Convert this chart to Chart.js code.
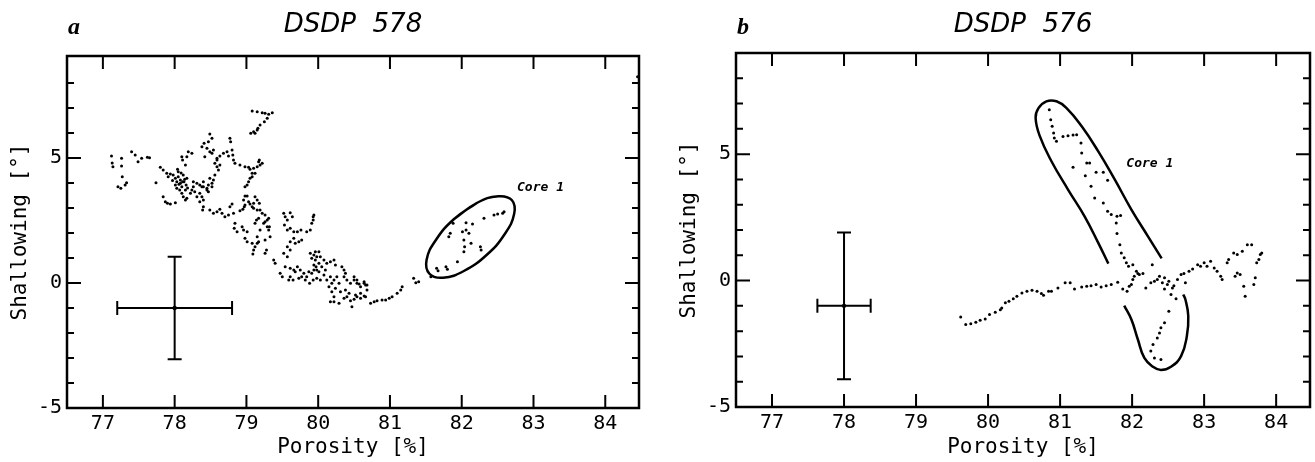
<!DOCTYPE html>
<html>
<head>
<meta charset="utf-8">
<script src="https://cdn.jsdelivr.net/npm/chart.js@4.4.1/dist/chart.umd.min.js"></script>
<style>
  html, body { margin: 0; padding: 0; background: #fff; }
  body { width: 1315px; height: 462px; position: relative; overflow: hidden; }
  canvas { position: absolute; top: 0; }
  #chartA { left: 0; }
  #chartB { left: 669px; }
  .letter { position: absolute; top: 13px; line-height: 24px; font: italic bold 24px "Liberation Serif", serif; color: #000; }
</style>
</head>
<body>
<canvas id="chartA" width="669" height="462"></canvas>
<canvas id="chartB" width="646" height="462"></canvas>
<div class="letter" style="left:68px">a</div>
<div class="letter" style="left:737px">b</div>
<script>
// axes
const xTicks = [77, 78, 79, 80, 81, 82, 83, 84];
const yTicks = [-5, 0, 5];
const yMinor = [-4, -3, -2, -1, 1, 2, 3, 4, 6, 7, 8];

// DSDP 578 : [porosity %, shallowing deg]
const site578 = [
  [77.12,5.08],[77.14,4.65],[77.26,4.99],[77.26,4.68],[77.27,4.25],[77.21,3.85],[77.25,3.79],[77.31,3.92],[77.33,4.01],[77.13,4.80],
  [77.40,5.25],[77.45,5.12],[77.49,4.85],[77.54,4.99],[77.62,5.03],[77.65,5.01],[77.74,4.01],
  [77.80,4.63],[77.84,4.52],[77.89,4.39],[77.91,4.25],[77.94,4.36],[77.98,4.32],[78.01,4.19],[78.03,4.05],[78.05,4.25],[78.08,4.12],
  [78.08,3.99],[78.10,3.85],[78.12,4.32],[78.13,4.05],[78.15,3.72],[78.16,3.92],[78.17,4.19],[78.01,3.92],[78.03,3.79],[78.07,3.72],
  [78.10,3.59],[78.12,3.45],[78.15,3.32],[78.17,3.39],[78.22,3.59],[78.24,3.72],[78.26,3.85],[78.28,3.65],[78.31,3.45],[78.35,3.59],
  [78.38,3.85],[78.40,4.05],[78.45,3.72],[78.40,3.32],[78.47,3.92],[78.49,4.19],[78.52,3.99],[78.54,4.12],[78.56,4.32],[77.87,3.25],
  [77.90,3.19],[77.94,3.16],[78.01,3.21],[77.84,3.45],[78.05,4.45],[78.09,4.40],[78.11,4.05],[78.06,3.95],[78.14,4.15],[78.04,4.55],
  [77.97,4.10],[78.18,3.80],
  [78.49,5.96],[78.52,5.79],[78.47,5.65],[78.41,5.59],[78.38,5.45],[78.45,5.39],[78.49,5.25],[78.42,5.05],[78.52,5.19],[78.54,5.32],
  [78.77,5.79],[78.78,5.65],[78.73,5.25],[78.68,5.19],[78.63,5.08],[78.59,4.99],[78.75,5.08],[78.80,5.32],[78.81,5.12],[78.82,4.92],
  [78.56,4.79],[78.59,4.65],[78.61,4.52],[78.63,4.72],[78.59,4.92],[78.19,5.25],[78.24,5.19],[78.10,5.05],[78.11,4.92],[78.15,4.72],
  [78.17,5.05],
  [79.08,6.88],[79.15,6.85],[79.22,6.81],[79.26,6.79],[79.31,6.75],[79.36,6.81],[79.29,6.59],[79.25,6.45],[79.19,6.32],[79.16,6.19],
  [79.10,6.05],[79.06,5.99],[79.12,5.99],[79.15,6.12],
  [78.84,4.79],[78.91,4.72],[78.98,4.65],[79.03,4.63],[79.05,4.55],[79.10,4.59],[79.15,4.65],[79.19,4.72],[79.17,4.85],[79.22,4.79],
  [79.18,4.92],[79.08,4.39],[79.05,4.19],[79.03,4.05],[79.01,3.92],[78.98,3.85],[79.08,4.25],[79.12,4.39],
  [78.26,4.05],[78.31,3.99],[78.35,3.92],[78.40,3.85],[78.45,3.79],[78.52,3.85],[78.47,3.65],[78.38,3.45],[78.35,3.25],[78.40,3.05],
  [78.39,2.92],[78.49,2.92],[78.54,2.79],[78.59,2.85],[78.63,2.95],[78.66,2.79],[78.70,2.65],[78.75,2.72],[78.77,3.05],[78.80,3.16],
  [78.82,2.79],[78.84,2.39],[78.83,2.19],[78.87,2.05],[78.91,2.89],[78.95,2.95],[78.97,3.05],[78.98,3.12],[79.01,3.48],[79.03,3.25],
  [79.05,3.16],[79.08,3.05],[79.10,3.19],[79.12,3.45],[79.15,3.32],[79.18,3.19],[78.98,3.48],[78.96,3.32],
  [78.94,2.25],[78.96,2.12],[79.01,2.05],[78.98,1.79],[79.01,1.65],[79.08,1.59],[79.10,1.32],[79.09,1.16],[79.12,1.45],[79.15,1.59],
  [79.17,1.65],[79.15,1.85],[79.12,2.39],[79.14,2.52],[79.17,2.59],[79.19,2.12],[79.24,2.39],[79.26,2.45],[79.29,2.52],[79.31,2.59],
  [79.29,2.25],[79.31,2.12],[79.33,1.85],[79.32,2.25],[79.26,2.72],[79.22,2.79],[79.19,2.92],[79.15,2.92],[79.10,2.99],[79.26,1.72],
  [79.26,1.19],[79.28,1.32],
  [79.52,2.79],[79.54,2.65],[79.61,2.81],[79.64,2.65],[79.57,2.52],[79.53,2.32],[79.57,2.12],[79.61,2.19],[79.66,2.05],[79.71,2.05],
  [79.76,2.12],[79.66,1.79],[79.61,1.65],[79.57,1.45],[79.61,1.32],[79.68,1.59],[79.73,1.65],[79.77,1.72],[79.84,2.05],[79.89,2.12],
  [79.91,2.39],[79.93,2.65],[79.94,2.72],[79.93,2.52],[79.52,1.19],[79.57,1.05],[79.38,0.92],[79.40,0.79],
  [79.89,1.19],[79.91,0.99],[79.94,1.12],[79.96,0.92],[79.98,1.05],[80.01,0.79],[79.97,0.65],[79.94,0.52],[79.91,0.39],[79.87,0.45],
  [79.84,0.25],[79.80,0.39],[79.75,0.52],[79.71,0.65],[79.68,0.45],[79.73,0.19],[79.77,0.25],[79.82,0.12],[79.88,-0.01],[79.93,0.12],
  [79.98,0.19],[80.03,0.12],[80.08,0.32],[80.10,0.52],[80.05,0.65],[80.12,0.79],[80.17,0.85],[80.22,0.92],[80.24,0.72],[80.08,0.92],
  [80.03,1.05],[80.01,1.25],[79.96,1.25],[79.98,0.52],[79.94,0.72],[80.01,0.45],[80.12,0.12],[80.17,0.25],[80.19,-0.01],[80.15,-0.15],
  [80.22,0.12],[80.26,0.25],[80.29,-0.01],[80.33,0.65],[80.36,0.52],[80.38,0.39],[80.36,0.25],[80.40,0.12],[80.45,-0.01],[80.50,0.12],
  [80.54,-0.01],[80.59,-0.15],[80.64,-0.01],[80.68,-0.08],[79.66,0.52],[79.61,0.59],[79.54,0.65],[79.47,0.39],[79.50,0.25],[79.59,0.12],
  [79.61,0.25],[79.65,0.12],
  [80.17,-0.75],[80.22,-0.75],[80.29,-0.81],[80.36,-0.61],[80.40,-0.55],[80.45,-0.71],[80.50,-0.65],[80.54,-0.55],[80.59,-0.61],
  [80.64,-0.52],[80.66,-0.08],[80.68,-0.28],[80.47,-0.95],[80.38,-0.28],[80.43,-0.41],[80.31,-0.35],[80.24,-0.21],[80.19,-0.35],
  [80.22,-0.55],
  [80.50,0.25],[80.54,0.12],[80.57,-0.04],[80.64,0.05],[80.59,-0.41],[80.52,-0.48],[80.66,-0.55],[80.73,-0.81],[80.78,-0.75],
  [80.82,-0.71],[80.89,-0.68],[80.94,-0.68],[80.99,-0.61],[81.03,-0.55],[81.10,-0.41],[81.15,-0.28],[81.17,-0.15],[81.33,0.19],
  [81.36,0.01],[81.40,0.05],[81.57,0.25],
  [81.65,0.59],[81.67,0.49],[81.78,0.65],[81.80,0.55],[81.94,0.85],[82.03,1.25],[82.04,1.45],[82.13,1.59],[82.26,1.45],[82.27,1.32],
  [82.03,1.72],[81.82,1.85],[81.84,1.99],[82.01,2.05],[82.06,2.12],[82.10,1.99],[81.88,2.39],[82.06,2.41],[82.15,2.36],[82.31,2.59],
  [82.45,2.72],[82.50,2.76],[82.57,2.79],[82.59,2.85],
  [84.45,8.25]
];
// Core 1 outline, DSDP 578 (closed, first two vertices repeated)
const core578 = [
  [81.89,2.55],[82.21,3.20],[82.51,3.47],[82.70,3.31],[82.73,2.76],[82.60,1.96],[82.35,1.13],[82.03,0.48],
  [81.74,0.21],[81.55,0.37],[81.51,0.92],[81.64,1.72],[81.89,2.55],[82.21,3.20]
];
const err578 = [78, -1, 0.8, 2.05];

// DSDP 576
const site576 = [
  [79.62,-1.44],[79.69,-1.74],[79.76,-1.71],[79.83,-1.65],[79.89,-1.57],[79.96,-1.52],[80.02,-1.34],[80.10,-1.25],[80.17,-1.15],
  [80.19,-1.08],[80.24,-0.88],[80.29,-0.82],[80.35,-0.72],[80.40,-0.62],[80.47,-0.49],[80.54,-0.42],[80.61,-0.38],[80.68,-0.42],
  [80.74,-0.51],[80.77,-0.58],[80.84,-0.42],[80.88,-0.42],[80.97,-0.29],[81.07,-0.09],[81.14,-0.09],[81.20,-0.33],[81.30,-0.25],
  [81.37,-0.22],[81.43,-0.20],[81.50,-0.16],[81.57,-0.25],[81.64,-0.20],[81.71,-0.16],[81.80,-0.07],[81.87,-0.33],[81.93,-0.42],
  [81.96,-0.22],[82.01,0.04],[82.03,0.17],[82.08,0.28],[82.15,0.28],[82.19,-0.29],[82.26,-0.09],[82.31,-0.03],[82.35,0.04],
  [82.38,0.17],[82.42,-0.09],[82.45,-0.33],[82.49,-0.16],[82.51,-0.03],[82.56,-0.29],[82.58,-0.20],[82.63,0.04],[82.68,0.24],
  [82.72,0.28],[82.74,-0.09],[82.79,0.37],[82.84,0.46],[82.91,0.63],[82.95,0.57],[83.00,0.70],[83.04,0.57],[83.09,0.76],
  [83.14,0.50],[83.18,0.37],[83.23,0.17],[83.25,0.04],[83.32,0.70],[83.34,0.83],[83.41,1.09],[83.46,1.03],[83.53,1.16],
  [83.60,1.42],[83.66,1.42],[83.55,-0.22],[83.57,-0.62],[83.69,-0.16],[83.71,0.11],[83.73,0.70],[83.76,0.83],[83.78,1.03],
  [83.80,1.09],[83.46,0.30],[83.43,0.17],[83.50,0.24],
  [80.85,6.76],[80.87,6.36],[80.89,6.10],[80.91,5.84],[80.92,5.64],[80.95,5.51],[81.04,5.70],[81.11,5.73],[81.18,5.76],[81.23,5.77],
  [81.29,5.44],[81.30,5.05],[81.18,4.48],[81.37,4.65],[81.41,4.65],[81.50,4.28],[81.60,4.28],[81.66,3.97],[81.35,4.15],[81.43,3.73],
  [81.48,3.27],[81.60,3.07],[81.66,2.74],[81.71,2.61],[81.79,2.54],[81.84,2.57],[81.78,2.28],
  [81.79,1.86],[81.83,1.42],[81.85,1.09],[81.89,0.90],[81.92,0.70],[81.95,0.57],[82.01,0.63],[82.06,0.37],[82.10,0.24],[82.28,0.63],
  [81.99,-0.16],
  [82.45,0.11],[82.54,-0.55],[82.61,-0.72],[82.51,-1.21],[82.45,-1.67],[82.40,-1.87],[82.38,-2.07],[82.35,-2.27],[82.29,-2.53],
  [82.26,-2.79],[82.31,-3.06],[82.40,-3.12]
];
// Core 1 outlines, DSDP 576
const core576Upper = [
  [81.67,0.67],[81.53,1.49],[81.34,2.54],[81.11,3.60],[80.88,4.72],[80.72,5.70],[80.66,6.43],[80.70,6.82],[80.81,7.09],
  [80.95,7.09],[81.09,6.82],[81.30,6.10],[81.53,5.11],[81.76,3.99],[81.99,2.81],[82.22,1.75],[82.41,0.88]
];
const core576Lower = [
  [81.89,-0.99],[81.99,-1.54],[82.08,-2.33],[82.17,-3.06],[82.29,-3.41],[82.40,-3.54],[82.54,-3.41],[82.68,-2.99],
  [82.76,-2.20],[82.78,-1.41],[82.74,-0.75],[82.71,-0.55]
];
const err576 = [78, -1, 0.37, 2.9];

const toXY = arr => arr.map(([x, y]) => ({x, y}));
const mono = 'DejaVu Sans Mono';

// frame, inward ticks, error cross and label
const framePlugin = {
  id: 'frame',
  afterDraw(chart, args, opts) {
    const {ctx, chartArea: a, scales: {x, y}} = chart;
    ctx.save();
    ctx.strokeStyle = '#000';
    ctx.fillStyle = '#000';

    // error bars
    const [ex, ey, dx, dy] = opts.err;
    const cx = x.getPixelForValue(ex), cy = y.getPixelForValue(ey);
    const x0 = x.getPixelForValue(ex - dx), x1 = x.getPixelForValue(ex + dx);
    const y0 = y.getPixelForValue(ey - dy), y1 = y.getPixelForValue(ey + dy);
    ctx.lineWidth = 2;
    ctx.beginPath();
    ctx.moveTo(x0, cy); ctx.lineTo(x1, cy);
    ctx.moveTo(cx, y0); ctx.lineTo(cx, y1);
    ctx.moveTo(x0, cy - 7); ctx.lineTo(x0, cy + 7);
    ctx.moveTo(x1, cy - 7); ctx.lineTo(x1, cy + 7);
    ctx.moveTo(cx - 7, y0); ctx.lineTo(cx + 7, y0);
    ctx.moveTo(cx - 7, y1); ctx.lineTo(cx + 7, y1);
    ctx.stroke();
    ctx.beginPath();
    ctx.arc(cx, cy, 2.2, 0, Math.PI * 2);
    ctx.fill();

    // ticks
    ctx.beginPath();
    xTicks.forEach(v => {
      const p = x.getPixelForValue(v);
      ctx.moveTo(p, a.bottom); ctx.lineTo(p, a.bottom - 13);
      ctx.moveTo(p, a.top); ctx.lineTo(p, a.top + 13);
    });
    yTicks.concat(yMinor).forEach(v => {
      const p = y.getPixelForValue(v);
      const len = yTicks.includes(v) ? 14 : 7;
      ctx.moveTo(a.left, p); ctx.lineTo(a.left + len, p);
      ctx.moveTo(a.right, p); ctx.lineTo(a.right - len, p);
    });
    ctx.stroke();

    ctx.lineWidth = 2.5;
    ctx.strokeRect(a.left, a.top, a.width, a.height);

    ctx.font = 'italic bold 13px "' + mono + '"';
    ctx.textBaseline = 'middle';
    ctx.fillText(opts.label, x.getPixelForValue(opts.labelAt[0]), y.getPixelForValue(opts.labelAt[1]));
    ctx.restore();
  }
};

function makeChart(id, cfg) {
  const outlines = cfg.outlines.map(o => ({
    data: toXY(o), showLine: true, tension: 0.45, pointRadius: 0,
    borderColor: '#000', borderWidth: 2.5, fill: false
  }));
  return new Chart(document.getElementById(id), {
    type: 'scatter',
    data: {
      datasets: [{
        data: toXY(cfg.points), pointRadius: 1.5, pointBackgroundColor: '#000',
        pointBorderWidth: 0
      }].concat(outlines)
    },
    options: {
      responsive: false,
      animation: false,
      events: [],
      layout: { padding: { left: 0, right: cfg.padRight, top: 0, bottom: 0 } },
      plugins: {
        legend: { display: false },
        tooltip: { enabled: false },
        title: {
          display: true, text: cfg.title, fullSize: false, color: '#000',
          font: { family: 'DejaVu Sans', size: 26, style: 'italic', weight: 'normal' },
          padding: { top: 10, bottom: cfg.titleGap }
        },
        frame: { err: cfg.err, label: 'Core 1', labelAt: cfg.labelAt }
      },
      scales: {
        x: {
          type: 'linear', min: 76.5, max: 84.47,
          afterBuildTicks: s => { s.ticks = xTicks.map(v => ({value: v})); },
          afterFit: s => { s.height = cfg.xAxisH; },
          grid: { display: false, drawTicks: false },
          border: { display: false },
          ticks: { color: '#000', font: { family: mono, size: 20 }, padding: 4, maxRotation: 0, autoSkip: false },
          title: { display: true, text: 'Porosity [%]', color: '#000', font: { family: mono, size: 21 }, padding: { top: 0, bottom: 1.5 } }
        },
        y: {
          type: 'linear', min: -5, max: cfg.yMax,
          afterBuildTicks: s => { s.ticks = yTicks.map(v => ({value: v})); },
          afterFit: s => { s.width = 67; },
          grid: { display: false, drawTicks: false },
          border: { display: false },
          ticks: { color: '#000', font: { family: mono, size: 20 }, padding: 5 },
          title: { display: true, text: 'Shallowing [°]', color: '#000', font: { family: mono, size: 21 }, padding: { top: 8, bottom: 0 } }
        }
      }
    },
    plugins: [framePlugin]
  });
}

makeChart('chartA', {
  title: 'DSDP  578', points: site578, outlines: [core578], err: err578,
  labelAt: [82.77, 3.8], padRight: 30, titleGap: 14.8, xAxisH: 54, yMax: 9.08
});
makeChart('chartB', {
  title: 'DSDP  576', points: site576, outlines: [core576Upper, core576Lower], err: err576,
  labelAt: [81.92, 4.62], padRight: 5, titleGap: 11.8, xAxisH: 55, yMax: 9.0
});
</script>
</body>
</html>
